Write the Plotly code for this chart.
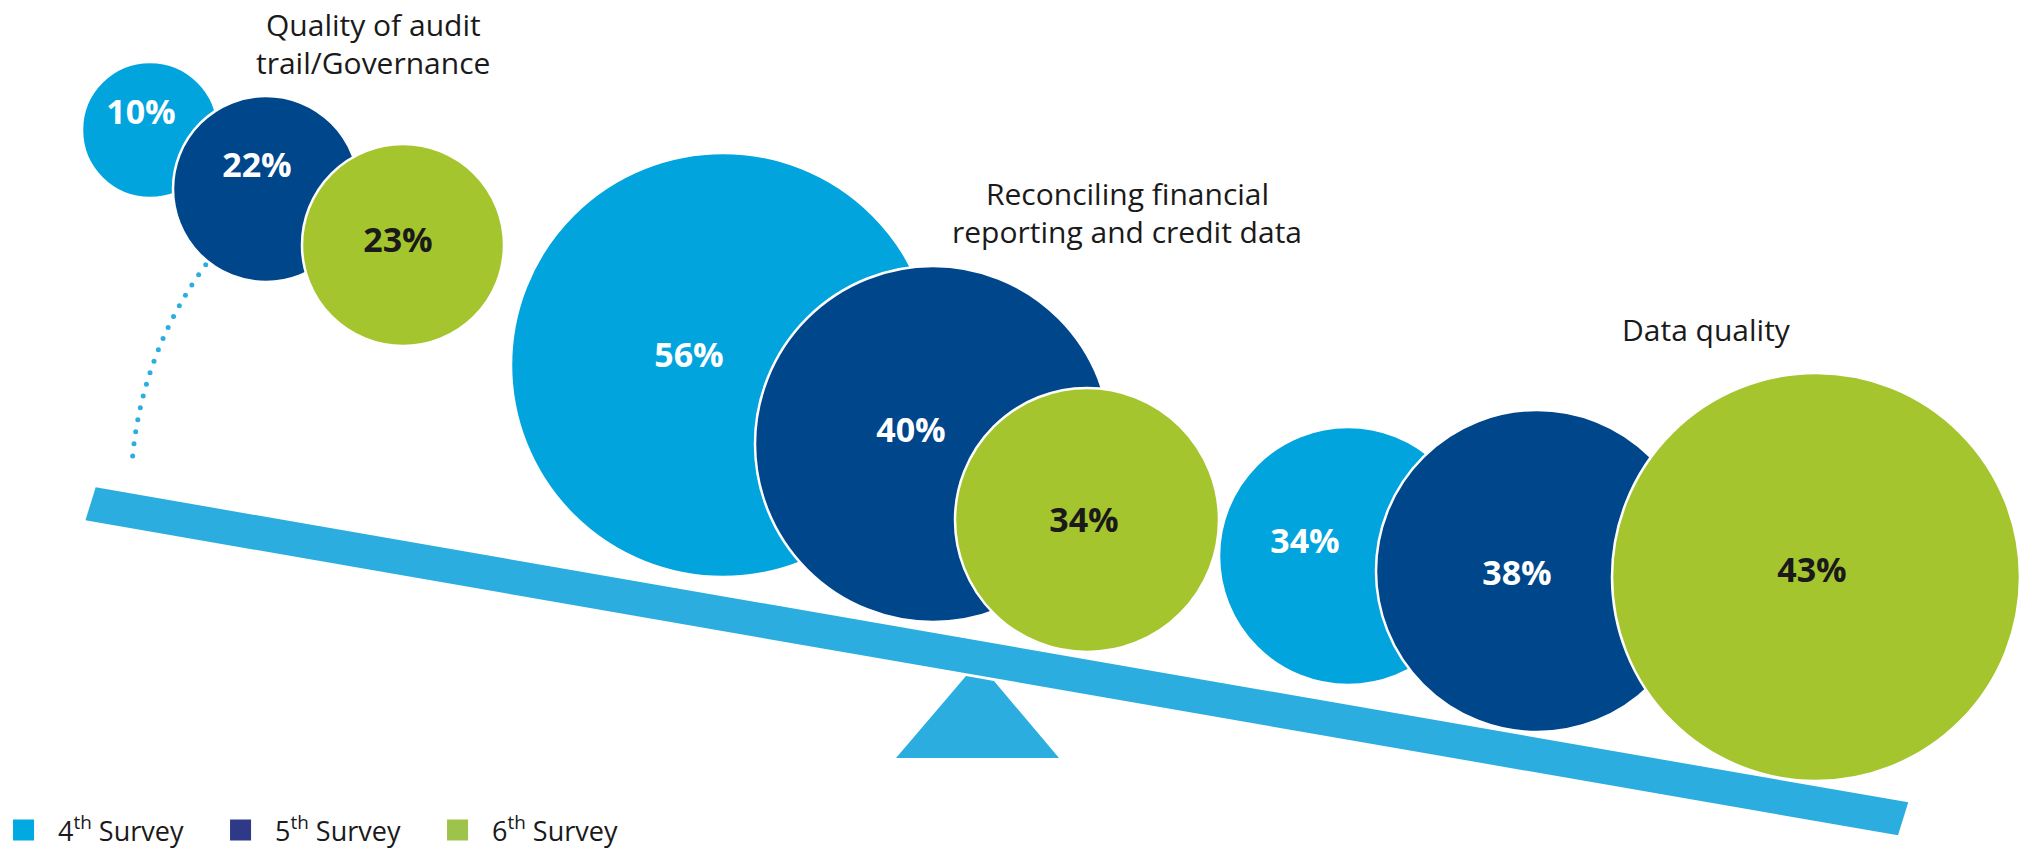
import numpy as np
import plotly.graph_objects as go

# ---------------- data ----------------
categories = ["Quality of audit<br>trail/Governance",
              "Reconciling financial<br>reporting and credit data",
              "Data quality"]
survey_names = ["4<sup>th</sup> Survey", "5<sup>th</sup> Survey", "6<sup>th</sup> Survey"]
survey4 = [10, 56, 34]
survey5 = [22, 40, 38]
survey6 = [23, 34, 43]

# ---------------- layout (pixel canvas) ----------------
W, H = 2028, 848
bubble_x = [[150, 723, 1348], [266, 933, 1537], [403, 1087, 1816]]
bubble_y = [[130, 365, 556], [189, 444, 571], [245, 520, 577]]
bubble_d = [[136, 424, 258], [186, 356, 322], [202, 264, 408]]
label_dx = [[-9, -34, -43], [-9, -22, -20], [-5, -3, -4]]
label_dy = [[-15, -7, -12], [-21, -11, 5], [-2, 3, -4]]
title_x = [373, 1127, 1706]
title_y = [24.5, 193.5, 329]
title_line_gap = 38

bubble_colors = ["#02A4DE", "#00468B", "#A5C52E"]
legend_colors = ["#00A9E0", "#2E3A88", "#9DC34A"]
label_colors = ["#FFFFFF", "#FFFFFF", "#1A1A1A"]
beam_color = "#2BAEDF"
text_color = "#1A1A1A"
FONT = "Open Sans"

fig = go.Figure()

# beam (seesaw plank) and fulcrum
beam_left_top = (95.7, 487.3)
beam_right_top = (1908.3, 802.3)
beam_offset = (-10.3, 33.0)
bx = [beam_left_top[0], beam_right_top[0], beam_right_top[0] + beam_offset[0],
      beam_left_top[0] + beam_offset[0], beam_left_top[0]]
by = [beam_left_top[1], beam_right_top[1], beam_right_top[1] + beam_offset[1],
      beam_left_top[1] + beam_offset[1], beam_left_top[1]]
fig.add_trace(go.Scatter(x=bx, y=by, mode="lines", fill="toself", fillcolor=beam_color,
                         line=dict(width=0, color=beam_color), hoverinfo="skip",
                         showlegend=False))
fx = [966, 994, 1059, 896, 966]
fy = [676, 681, 758, 758, 676]
fig.add_trace(go.Scatter(x=fx, y=fy, mode="lines", fill="toself", fillcolor=beam_color,
                         line=dict(width=0, color=beam_color), hoverinfo="skip",
                         showlegend=False))

# dotted motion arc
arc_c = (512, 491.5)
arc_r = 381
theta = np.radians(np.linspace(216.5, 185.35, 18))
fig.add_trace(go.Scatter(x=arc_c[0] + arc_r * np.cos(theta), y=arc_c[1] + arc_r * np.sin(theta),
                         mode="markers", marker=dict(size=5, color=beam_color),
                         hoverinfo="skip", showlegend=False))

# bubbles
series = [survey4, survey5, survey6]
for i, vals in enumerate(series):
    fig.add_trace(go.Scatter(
        x=bubble_x[i], y=bubble_y[i], mode="markers",
        marker=dict(size=bubble_d[i], sizemode="diameter", color=bubble_colors[i],
                    opacity=1, line=dict(color="white", width=2.5)),
        customdata=vals, hovertemplate="%{customdata}%<extra></extra>",
        showlegend=False))
for i, vals in enumerate(series):
    fig.add_trace(go.Scatter(
        x=[bx_ + dx for bx_, dx in zip(bubble_x[i], label_dx[i])],
        y=[by_ + dy for by_, dy in zip(bubble_y[i], label_dy[i])],
        mode="text", text=[f"<b>{v}%</b>" for v in vals],
        textposition="middle center",
        textfont=dict(family=FONT, size=34, color=label_colors[i]),
        hoverinfo="skip", showlegend=False))

# legend entries
for i, name in enumerate(survey_names):
    fig.add_trace(go.Scatter(x=[None], y=[None], mode="markers", name=name,
                             marker=dict(symbol="square", size=16, color=legend_colors[i],
                                         line=dict(color=legend_colors[i], width=7))))

# category titles
for cat, tx, ty in zip(categories, title_x, title_y):
    for k, line in enumerate(cat.split("<br>")):
        fig.add_annotation(x=tx, y=ty + k * title_line_gap, text=line, showarrow=False,
                           xanchor="center", yanchor="middle",
                           font=dict(family=FONT, size=30, color=text_color))

fig.update_layout(
    width=W, height=H, autosize=False,
    margin=dict(l=0, r=0, t=0, b=0, autoexpand=False),
    paper_bgcolor="white", plot_bgcolor="white",
    xaxis=dict(range=[0, W], visible=False, fixedrange=True),
    yaxis=dict(range=[H, 0], visible=False, fixedrange=True),
    showlegend=True,
    legend=dict(orientation="h", x=-0.0054, y=-0.0083, xanchor="left", yanchor="bottom",
                font=dict(family=FONT, size=27, color=text_color),
                bgcolor="rgba(0,0,0,0)", entrywidth=143, entrywidthmode="pixels",
                itemwidth=59, itemclick=False, itemdoubleclick=False),
    font=dict(family=FONT),
)

fig.write_html("out.html", config={"displayModeBar": False},
               post_script="document.body.style.margin='0';")
